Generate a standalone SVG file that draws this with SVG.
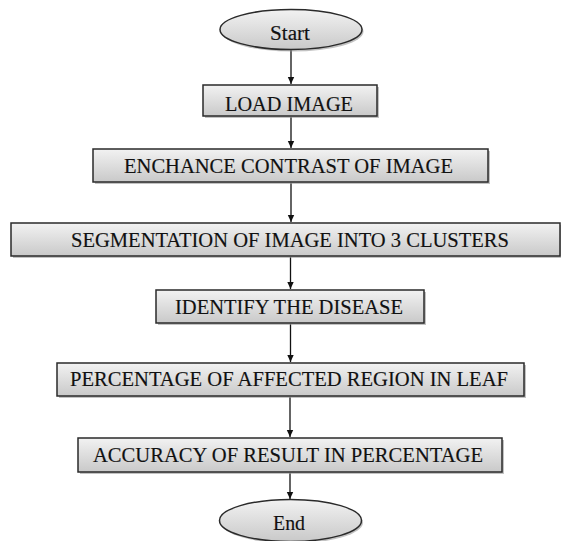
<svg xmlns="http://www.w3.org/2000/svg" width="561" height="541" viewBox="0 0 561 541">
<defs>
<linearGradient id="g" x1="0" y1="0" x2="0" y2="1">
<stop offset="0" stop-color="#f2f2f2"/>
<stop offset="1" stop-color="#c9c9c9"/>
</linearGradient>
<marker id="arr" markerWidth="8" markerHeight="8" refX="7" refY="4" orient="auto" markerUnits="userSpaceOnUse">
<path d="M0,0.8 L7,4 L0,7.2 Z" fill="#111"/>
</marker>
<style>
.box{fill:url(#g);stroke:#2a2a2a;stroke-width:1.5}
.sh{fill:#9a9a9a;opacity:0.6}
.t{font-family:"Liberation Serif","Times New Roman",serif;font-size:20px;fill:#111;stroke:#111;stroke-width:0.15}
.c{stroke:#111;stroke-width:1.3;fill:none;marker-end:url(#arr)}
</style>
</defs>
<rect width="561" height="541" fill="#fff"/>
<g id="connectors">
<line class="c" x1="291" y1="50" x2="291" y2="84"/>
<line class="c" x1="291" y1="117" x2="291" y2="148"/>
<line class="c" x1="291" y1="183" x2="291" y2="222"/>
<line class="c" x1="290.5" y1="257" x2="290.5" y2="289"/>
<line class="c" x1="290.5" y1="324" x2="290.5" y2="362"/>
<line class="c" x1="290" y1="397" x2="290" y2="437"/>
<line class="c" x1="290" y1="473" x2="290" y2="499"/>
</g>
<g id="start">
<ellipse class="sh" cx="292.5" cy="31.5" rx="71" ry="20"/>
<ellipse class="box" cx="291" cy="29.5" rx="71" ry="20"/>
<text class="t" x="270" y="40" textLength="40" lengthAdjust="spacingAndGlyphs">Start</text>
</g>
<g id="load">
<rect class="sh" x="205" y="87" width="174" height="31"/>
<rect class="box" x="203" y="85" width="174" height="31"/>
<text class="t" x="225" y="111" textLength="128" lengthAdjust="spacingAndGlyphs">LOAD IMAGE</text>
</g>
<g id="enhance">
<rect class="sh" x="95" y="151" width="395" height="33"/>
<rect class="box" x="93" y="149" width="395" height="33"/>
<text class="t" x="124" y="173" textLength="329" lengthAdjust="spacingAndGlyphs">ENCHANCE CONTRAST  OF IMAGE</text>
</g>
<g id="segment">
<rect class="sh" x="13" y="225" width="549" height="33"/>
<rect class="box" x="11" y="223" width="549" height="33"/>
<text class="t" x="71" y="247" textLength="438" lengthAdjust="spacingAndGlyphs">SEGMENTATION  OF IMAGE INTO 3 CLUSTERS</text>
</g>
<g id="identify">
<rect class="sh" x="158" y="292" width="268" height="33"/>
<rect class="box" x="156" y="290" width="268" height="33"/>
<text class="t" x="175" y="314" textLength="228" lengthAdjust="spacingAndGlyphs">IDENTIFY  THE  DISEASE</text>
</g>
<g id="percentage">
<rect class="sh" x="59" y="365" width="467" height="33"/>
<rect class="box" x="57" y="363" width="467" height="33"/>
<text class="t" x="70" y="386" textLength="438" lengthAdjust="spacingAndGlyphs">PERCENTAGE OF AFFECTED  REGION IN LEAF</text>
</g>
<g id="accuracy">
<rect class="sh" x="80" y="440" width="424" height="34"/>
<rect class="box" x="78" y="438" width="424" height="34"/>
<text class="t" x="93" y="462" textLength="390" lengthAdjust="spacingAndGlyphs">ACCURACY OF RESULT IN PERCENTAGE</text>
</g>
<g id="end">
<ellipse class="sh" cx="292" cy="522.5" rx="71" ry="21"/>
<ellipse class="box" cx="290.5" cy="520.5" rx="71" ry="21"/>
<text class="t" x="273" y="530" textLength="32" lengthAdjust="spacingAndGlyphs">End</text>
</g>
</svg>
